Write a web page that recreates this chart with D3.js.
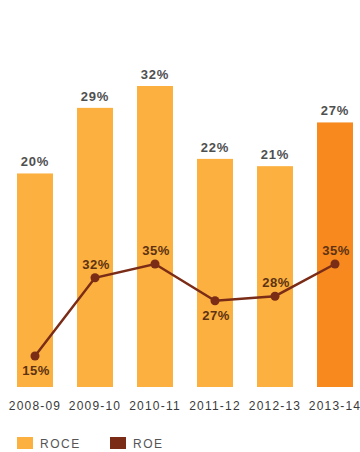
<!DOCTYPE html>
<html>
<head>
<meta charset="utf-8">
<script src="https://cdn.jsdelivr.net/npm/d3@7"></script>
<style>
  html, body { margin: 0; padding: 0; background: #fff; }
  svg { display: block; }
</style>
</head>
<body>
<svg id="chart" width="360" height="452"></svg>
<script>
// Financial years shown on the x axis
const years = ["2008-09", "2009-10", "2010-11", "2011-12", "2012-13", "2013-14"];
// Return on capital employed (%), drawn as bars
const roce = [20, 29, 32, 22, 21, 27];
// Return on equity (%), drawn as a line on its own scale
const roe = [15, 32, 35, 27, 28, 35];
// Whether each ROE label sits above (true) or below (false) its point
const roeLabelAbove = [false, true, true, false, true, true];
// Legend entries
const legendItems = ["ROCE", "ROE"];

const colors = {
  bar: "#FBB03F",
  barLatest: "#F7891F",
  line: "#7A2C17",
  barLabel: "#4f4f4f",
  roeLabel: "#5e3212",
  axis: "#3a3a3a"
};

const svg = d3.select("#chart");
const baseY = 387;

const x = d3.scaleBand()
  .domain(years)
  .range([5, 365])
  .paddingInner(0.4)
  .paddingOuter(0.2);

// Bars rise from a truncated baseline
const yBar = d3.scaleLinear().domain([-9.3, 32]).range([baseY, 86]);
// ROE uses its own vertical scale
const yRoe = d3.scaleLinear().domain([15, 35]).range([356, 264]);

const data = years.map((y, i) => ({ year: y, roce: roce[i], roe: roe[i], above: roeLabelAbove[i], i }));

// Bars
svg.append("g").selectAll("rect")
  .data(data)
  .join("rect")
  .attr("x", d => x(d.year))
  .attr("width", x.bandwidth())
  .attr("y", d => yBar(d.roce))
  .attr("height", d => baseY - yBar(d.roce))
  .attr("fill", d => d.i === years.length - 1 ? colors.barLatest : colors.bar);

// Bar value labels
svg.append("g").selectAll("text")
  .data(data)
  .join("text")
  .attr("x", d => x(d.year) + x.bandwidth() / 2)
  .attr("y", d => yBar(d.roce) - 7)
  .attr("text-anchor", "middle")
  .attr("font-family", "Liberation Sans, Arial, sans-serif")
  .attr("font-size", 13)
  .attr("font-weight", "bold")
  .attr("letter-spacing", 0.8)
  .attr("fill", colors.barLabel)
  .text(d => d.roce + "%");

// ROE line
const line = d3.line()
  .x(d => x(d.year) + x.bandwidth() / 2)
  .y(d => yRoe(d.roe));

svg.append("path")
  .datum(data)
  .attr("d", line)
  .attr("fill", "none")
  .attr("stroke", colors.line)
  .attr("stroke-width", 2.5);

svg.append("g").selectAll("circle")
  .data(data)
  .join("circle")
  .attr("cx", d => x(d.year) + x.bandwidth() / 2)
  .attr("cy", d => yRoe(d.roe))
  .attr("r", 4.5)
  .attr("fill", colors.line);

// ROE value labels
svg.append("g").selectAll("text")
  .data(data)
  .join("text")
  .attr("x", d => x(d.year) + x.bandwidth() / 2 + 1)
  .attr("y", d => yRoe(d.roe) + (d.above ? -9 : 19))
  .attr("text-anchor", "middle")
  .attr("font-family", "Liberation Sans, Arial, sans-serif")
  .attr("font-size", 13)
  .attr("font-weight", "bold")
  .attr("letter-spacing", 0.5)
  .attr("fill", colors.roeLabel)
  .text(d => d.roe + "%");

// X axis labels
const xAxis = d3.axisBottom(x).tickSize(0).tickPadding(0);
const gx = svg.append("g")
  .attr("transform", `translate(0,${baseY})`)
  .call(xAxis);
gx.select(".domain").remove();
gx.selectAll("text")
  .attr("y", 23)
  .attr("dy", 0)
  .attr("font-family", "Liberation Sans, Arial, sans-serif")
  .attr("font-size", 12)
  .attr("letter-spacing", 1.2)
  .attr("fill", colors.axis);

// Legend
const legend = svg.append("g").attr("transform", "translate(17,437)");
const legendX = [0, 93];
const legendColors = [colors.bar, colors.line];
legendItems.forEach((name, i) => {
  const g = legend.append("g").attr("transform", `translate(${legendX[i]},0)`);
  g.append("rect")
    .attr("width", 16)
    .attr("height", 12)
    .attr("fill", legendColors[i]);
  g.append("text")
    .attr("x", 23)
    .attr("y", 11)
    .attr("font-family", "Liberation Sans, Arial, sans-serif")
    .attr("font-size", 12)
    .attr("letter-spacing", 1.5)
    .attr("fill", "#555")
    .text(name);
});
</script>
</body>
</html>
